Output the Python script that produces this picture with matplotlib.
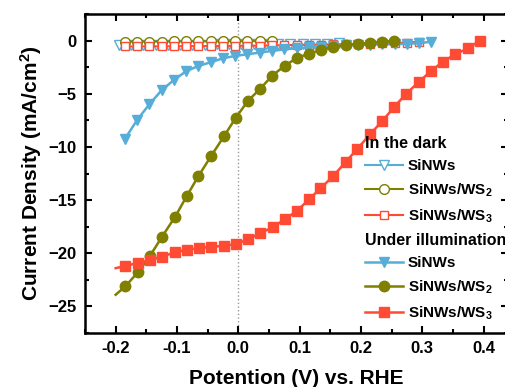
import matplotlib
matplotlib.use("Agg")
import matplotlib.pyplot as plt
from matplotlib.ticker import MultipleLocator

plt.rcParams["font.family"] = ["Liberation Sans", "DejaVu Sans"]
plt.rcParams["font.weight"] = "bold"
plt.rcParams["mathtext.fontset"] = "custom"
plt.rcParams["mathtext.rm"] = "Liberation Sans:bold"
plt.rcParams["mathtext.bf"] = "Liberation Sans:bold"
plt.rcParams["mathtext.default"] = "bf"

# ---- data ----
dark_sinws_x = [-0.195, -0.175, -0.155, -0.135, -0.115, -0.095, -0.075, -0.055, -0.035,
                -0.015, 0.005, 0.025, 0.045, 0.065, 0.085, 0.105, 0.125, 0.145, 0.165]
dark_sinws_y = [-0.40, -0.40, -0.40, -0.39, -0.39, -0.38, -0.38, -0.37, -0.36,
                -0.36, -0.35, -0.34, -0.33, -0.32, -0.31, -0.30, -0.29, -0.28, -0.27]

dark_ws2_x = [-0.185, -0.165, -0.145, -0.125, -0.105, -0.085, -0.065, -0.045, -0.025,
              -0.005, 0.015, 0.035, 0.055]
dark_ws2_y = [-0.10, -0.10, -0.09, -0.09, -0.08, -0.08, -0.07, -0.07, -0.06,
              -0.06, -0.05, -0.05, -0.05]

dark_ws3_x = [-0.185, -0.165, -0.145, -0.125, -0.105, -0.085, -0.065, -0.045, -0.025,
              -0.005, 0.015, 0.035, 0.055, 0.075, 0.095, 0.115, 0.135, 0.155, 0.175,
              0.195, 0.215, 0.235, 0.255, 0.275, 0.295]
dark_ws3_y = [-0.55, -0.55, -0.54, -0.54, -0.53, -0.52, -0.52, -0.51, -0.50,
              -0.49, -0.48, -0.47, -0.45, -0.43, -0.41, -0.39, -0.37, -0.35, -0.33,
              -0.31, -0.28, -0.25, -0.22, -0.18, -0.12]

ill_sinws_x = [-0.185, -0.165, -0.145, -0.125, -0.105, -0.085, -0.065, -0.045, -0.025,
               -0.005, 0.015, 0.035, 0.055, 0.075, 0.095, 0.115, 0.135, 0.155, 0.175,
               0.195, 0.215, 0.235, 0.255, 0.275, 0.295, 0.315]
ill_sinws_y = [-9.25, -7.47, -5.99, -4.67, -3.70, -2.88, -2.38, -2.04, -1.66,
               -1.44, -1.28, -1.13, -0.97, -0.83, -0.72, -0.63, -0.56, -0.50, -0.45,
               -0.41, -0.38, -0.35, -0.33, -0.30, -0.25, -0.10]

ill_ws2_x = [-0.200, -0.184, -0.164, -0.144, -0.125, -0.103, -0.084, -0.065, -0.044,
             -0.023, -0.004, 0.016, 0.035, 0.055, 0.076, 0.095, 0.115, 0.135, 0.155,
             0.176, 0.195, 0.215, 0.234, 0.254]
ill_ws2_y = [-23.9, -23.1, -21.8, -20.25, -18.5, -16.57, -14.62, -12.74, -10.83,
             -8.97, -7.25, -5.65, -4.58, -3.32, -2.35, -1.66, -1.22, -0.88, -0.59,
             -0.43, -0.30, -0.20, -0.10, -0.05]

ill_ws3_x = [-0.200, -0.184, -0.164, -0.144, -0.124, -0.104, -0.084, -0.064, -0.044,
             -0.024, -0.004, 0.016, 0.036, 0.056, 0.076, 0.096, 0.116, 0.134, 0.155,
             0.175, 0.194, 0.215, 0.235, 0.254, 0.273, 0.294, 0.314, 0.334, 0.354,
             0.375, 0.394]
ill_ws3_y = [-21.4, -21.2, -20.9, -20.65, -20.34, -19.9, -19.7, -19.5, -19.4,
             -19.3, -19.14, -18.7, -18.1, -17.57, -16.8, -16.0, -14.9, -13.9, -12.74,
             -11.42, -10.2, -8.8, -7.56, -6.27, -5.05, -3.92, -2.88, -1.98, -1.28,
             -0.72, 0.0]

xticks = [-0.2, -0.1, 0.0, 0.1, 0.2, 0.3, 0.4]
xtick_labels = ["-0.2", "-0.1", "0.0", "0.1", "0.2", "0.3", "0.4"]
yticks = [0, -5, -10, -15, -20, -25]

blue = "#56ADD8"
olive = "#7F7F00"
red = "#FF4B33"

fig = plt.figure(figsize=(5.06, 3.87), dpi=100)
ax = fig.add_axes([0.168, 0.1395, 0.836, 0.8243])

ax.axvline(0, color="#999999", linestyle=":", linewidth=1.0, zorder=0)

# dark
d1, = ax.plot(dark_sinws_x, dark_sinws_y, color=blue, lw=1.5, marker="v", ms=7,
              mfc="white", mec=blue, mew=1.0)
d2, = ax.plot(dark_ws2_x, dark_ws2_y, color=olive, lw=1.5, marker="o", ms=7,
              mfc="white", mec=olive, mew=1.0)
d3, = ax.plot(dark_ws3_x, dark_ws3_y, color=red, lw=1.5, marker="s", ms=6,
              mfc="white", mec=red, mew=1.0)
# illumination
l1, = ax.plot(ill_sinws_x, ill_sinws_y, color=blue, lw=1.8, marker="v", ms=7.5,
              mfc=blue, mec=blue)
l2, = ax.plot(ill_ws2_x, ill_ws2_y, color=olive, lw=1.8, marker="o", ms=7.5,
              mfc=olive, mec=olive, markevery=slice(1, None))
l3, = ax.plot(ill_ws3_x, ill_ws3_y, color=red, lw=1.8, marker="s", ms=6.5,
              mfc=red, mec=red, markevery=slice(1, None))

ax.set_xlim(-0.25, 0.44)
ax.set_ylim(-27.5, 2.5)
ax.set_xticks(xticks)
ax.set_xticklabels(xtick_labels)
ax.set_yticks(yticks)
ax.xaxis.set_minor_locator(MultipleLocator(0.05))
ax.yaxis.set_minor_locator(MultipleLocator(2.5))
ax.tick_params(which="both", direction="in", width=1.5, labelsize=12,
               right=True, top=True, pad=6)
ax.tick_params(which="major", length=5)
ax.tick_params(which="minor", length=3)
for s in ax.spines.values():
    s.set_linewidth(1.8)

ax.set_xlabel("Potention (V) vs. RHE", fontsize=15, fontweight="bold", labelpad=9)
ax.set_ylabel("Current Density (mA/cm$^2$)", fontsize=15, fontweight="bold", labelpad=3)

lab = ["SiNWs", "SiNWs/WS$_2$", "SiNWs/WS$_3$"]
common = dict(frameon=False, fontsize=11, handlelength=2.5, handletextpad=0.3,
              labelspacing=0.55, borderaxespad=0, borderpad=0, alignment="left",
              title_fontproperties={"weight": "bold", "size": 11.5})
leg1 = fig.legend([d1, d2, d3], lab, title="In the dark",
                  loc="upper left", bbox_to_anchor=(365 / 506, 1 - 136 / 387), **common)
leg2 = fig.legend([l1, l2, l3], lab, title="Under illumination",
                  loc="upper left", bbox_to_anchor=(365 / 506, 1 - 233 / 387), **common)

fig.savefig("out.png", dpi=100)
